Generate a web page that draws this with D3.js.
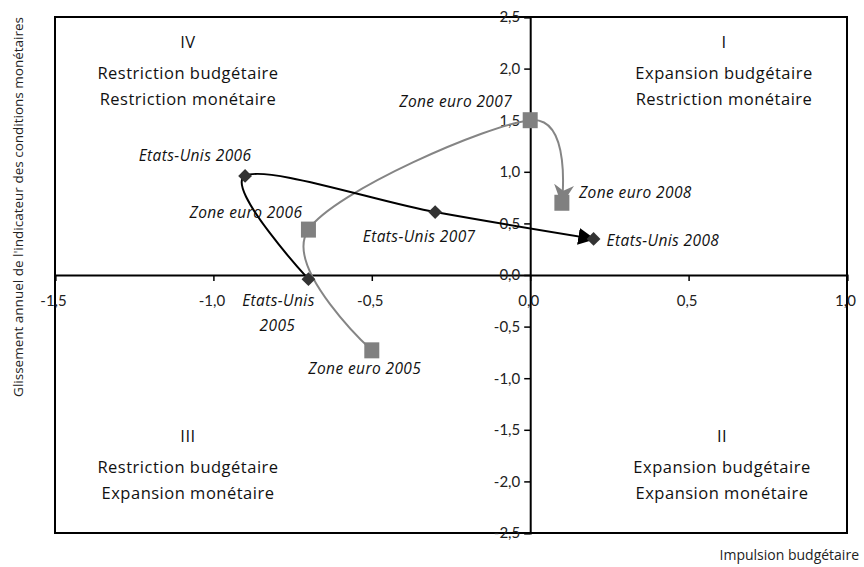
<!DOCTYPE html>
<html><head><meta charset="utf-8">
<script src="https://cdn.jsdelivr.net/npm/d3@7"></script>
<style>body{margin:0;background:#fff}svg{display:block}</style>
</head><body><svg id="c" width="864" height="567"></svg>
<script>
const usYears = ["2005","2006","2007","2008"];
const usX = [-0.70, -0.90, -0.30, 0.20];
const usY = [-0.04, 0.96, 0.61, 0.35];
const euYears = ["2005","2006","2007","2008"];
const euX = [-0.50, -0.70, 0.00, 0.10];
const euY = [-0.73, 0.44, 1.50, 0.70];
const xTicks = [-1.5, -1.0, -0.5, 0.0, 0.5, 1.0];
const yTicks = [2.5, 2.0, 1.5, 1.0, 0.5, 0.0, -0.5, -1.0, -1.5, -2.0, -2.5];
const quadNums = ["IV", "I", "III", "II"];
const quadLine1 = ["Restriction budgétaire", "Expansion budgétaire", "Restriction budgétaire", "Expansion budgétaire"];
const quadLine2 = ["Restriction monétaire", "Restriction monétaire", "Expansion monétaire", "Expansion monétaire"];
const xTitle = "Impulsion budgétaire";
const yTitle = "Glissement annuel de l'indicateur des conditions monétaires";

const svg = d3.select("#c");
const x = d3.scaleLinear().domain([-1.5, 1.0]).range([55, 847]);
const y = d3.scaleLinear().domain([-2.5, 2.5]).range([533, 17]);
const fmt = v => d3.format(".1f")(v).replace(".", ",").replace("−","-");
const font = "Lato, 'Open Sans', sans-serif";
const font2 = "'Open Sans', sans-serif";

// frame
svg.append("rect").attr("x", x(-1.5)).attr("y", y(2.5))
  .attr("width", x(1.0)-x(-1.5)).attr("height", y(-2.5)-y(2.5))
  .attr("fill","none").attr("stroke","#000").attr("stroke-width",2);

// axes
const xAxis = d3.axisBottom(x).tickValues(xTicks).tickSize(6).tickFormat(fmt);
const gx = svg.append("g").attr("transform",`translate(0,${y(0)})`).call(xAxis);
gx.select(".domain").attr("stroke-width",2);
gx.selectAll(".tick line").attr("stroke-width",1.5);
gx.selectAll("text").attr("font-family",font).attr("font-size",15).attr("fill","#222").attr("dy","1.45em").attr("dx","-2");

const yAxis = d3.axisLeft(y).tickValues(yTicks).tickSize(6).tickFormat(fmt);
const gy = svg.append("g").attr("transform",`translate(${x(0)},0)`).call(yAxis);
gy.select(".domain").attr("stroke-width",2);
gy.selectAll(".tick line").attr("stroke-width",1.5);
gy.selectAll("text").attr("font-family",font).attr("font-size",15).attr("fill","#222").attr("x",-10);

// titles
svg.append("text").attr("x", 859).attr("y", 560).attr("text-anchor","end")
  .attr("font-family",font2).attr("font-size",14).attr("fill","#222").text(xTitle);
svg.append("text").attr("transform","translate(23,17) rotate(-90)").attr("text-anchor","end")
  .attr("font-family",font2).attr("font-size",13.5).attr("fill","#222").text(yTitle);

// quadrant labels
const qCx = [188, 724, 188, 722];
const qTop = [48, 48, 442, 442];
quadNums.forEach((n,i) => {
  const g = svg.append("g").attr("font-family",font2).attr("font-size",16.5).attr("letter-spacing",0.5)
    .attr("fill","#111").attr("text-anchor","middle");
  g.append("text").attr("x",qCx[i]).attr("y",qTop[i]).text(n);
  g.append("text").attr("x",qCx[i]).attr("y",qTop[i]+31).text(quadLine1[i]);
  g.append("text").attr("x",qCx[i]).attr("y",qTop[i]+57).text(quadLine2[i]);
});

// arrow markers
const defs = svg.append("defs");
defs.append("marker").attr("id","arrBlack").attr("viewBox","0 0 10 10").attr("refX",9).attr("refY",5)
  .attr("markerWidth",8.5).attr("markerHeight",8.5).attr("markerUnits","strokeWidth").attr("orient","auto")
  .append("path").attr("d","M0,0 L10,5 L0,10 Z").attr("fill","#000");
defs.append("marker").attr("id","arrGray").attr("viewBox","0 0 10 10").attr("refX",9).attr("refY",5)
  .attr("markerWidth",10).attr("markerHeight",10).attr("markerUnits","strokeWidth").attr("orient","auto")
  .append("path").attr("d","M0,0 L10,5 L0,10 L3,5 Z").attr("fill","#808080");

const line = d3.line().x(d=>x(d[0])).y(d=>y(d[1])).curve(d3.curveCatmullRom.alpha(0));
const euPts = euX.map((v,i)=>[v,euY[i]]);
const usPts = usX.map((v,i)=>[v,usY[i]]);

svg.append("path").attr("d", line(euPts)).attr("fill","none").attr("stroke","#858585")
  .attr("stroke-width",2).attr("marker-end","url(#arrGray)");
svg.append("path").attr("d", line(usPts)).attr("fill","none").attr("stroke","#000")
  .attr("stroke-width",2).attr("marker-end","url(#arrBlack)");

// markers
svg.selectAll(".eu").data(euPts).enter().append("rect")
  .attr("x",d=>x(d[0])-7.5).attr("y",d=>y(d[1])-8).attr("width",15).attr("height",16).attr("fill","#808080");
svg.selectAll(".us").data(usPts).enter().append("path")
  .attr("d",d3.symbol(d3.symbolSquare, 95)())
  .attr("transform",d=>`translate(${x(d[0])},${y(d[1])}) rotate(45)`).attr("fill","#333");

// data labels
const lab = svg.append("g").attr("font-family",font2).attr("font-size",15.5).attr("letter-spacing",0.4)
  .attr("font-style","italic").attr("fill","#111");
const labels = [
  {t:"Zone euro "+euYears[3], px:euX[3], py:euY[3], dx:17, dy:-10, a:"start"},
  {t:"Zone euro "+euYears[2], px:euX[2], py:euY[2], dx:-18, dy:-19, a:"end"},
  {t:"Zone euro "+euYears[1], px:euX[1], py:euY[1], dx:-6, dy:-17, a:"end"},
  {t:"Zone euro "+euYears[0], px:euX[0], py:euY[0], dx:-7, dy:18, a:"middle"},
  {t:"Etats-Unis "+usYears[1], px:usX[1], py:usY[1], dx:-50, dy:-20, a:"middle"},
  {t:"Etats-Unis "+usYears[2], px:usX[2], py:usY[2], dx:-16, dy:25, a:"middle"},
  {t:"Etats-Unis "+usYears[3], px:usX[3], py:usY[3], dx:13, dy:2, a:"start"}
];
labels.forEach(l=>{
  lab.append("text").attr("x",x(l.px)+l.dx).attr("y",y(l.py)+l.dy).attr("dy","0.35em")
    .attr("text-anchor",l.a).text(l.t);
});
lab.append("text").attr("x",x(usX[0])-30).attr("y",y(usY[0])+21).attr("dy","0.35em").attr("text-anchor","middle").text("Etats-Unis");
lab.append("text").attr("x",x(usX[0])-31).attr("y",y(usY[0])+46).attr("dy","0.35em").attr("text-anchor","middle").text(usYears[0]);
</script></body></html>
